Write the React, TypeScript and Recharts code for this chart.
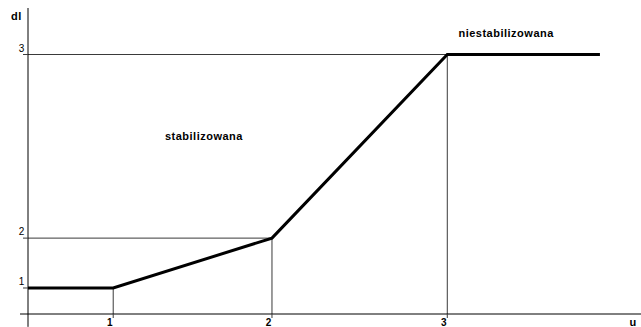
import { LineChart, Line, XAxis, YAxis, ReferenceLine, ReferenceDot } from 'recharts'

// break points of the dl(u) curve
const uPoints = [0, 1.39, 3.98, 6.84, 9.33]
const dlPoints = [0.85, 0.85, 2.48, 8.48, 8.48]
const pointNames = ['', '1', '2', '3', '']

const uTicks = uPoints.slice(1, 4)
const dlTicks = dlPoints.slice(1, 4)
const tickNames = pointNames.slice(1, 4)

const data = uPoints.map((u, i) => ({ u, dl: dlPoints[i] }))

const FONT = '"Liberation Sans", Arial, sans-serif'
const GUIDE = '#3a3a3a'

const labelStyle = { fontFamily: FONT, fontSize: 11, fontWeight: 700, fill: '#000', letterSpacing: 0.5 }

function nameFor(ticks: number[], v: number) {
    const i = ticks.indexOf(v)
    return i >= 0 ? tickNames[i] : ''
}

function XTick(props: any) {
    const { x, y, payload } = props
    return (
        <text x={x - 3.5} y={y} dy={6} textAnchor="middle" fontFamily={FONT} fontSize={10} fontWeight={700} fill="#000">
            {nameFor(uTicks, payload.value)}
        </text>
    )
}

function YTick(props: any) {
    const { x, y, payload } = props
    return (
        <text x={x + 0.5} y={y} dy={-3} textAnchor="middle" fontFamily={FONT} fontSize={10} fill="#000">
            {nameFor(dlTicks, payload.value)}
        </text>
    )
}

export default function App() {
    return (
        <div style={{ position: 'absolute', left: 0, top: 0, background: '#fff' }}>
            <LineChart width={641} height={327} data={data} margin={{ top: 8, right: 0, bottom: 0, left: 0 }}>
                <XAxis
                    type="number"
                    dataKey="u"
                    domain={[0, 10]}
                    ticks={uTicks}
                    interval={0}
                    height={13}
                    tickSize={4}
                    axisLine={{ stroke: '#000' }}
                    tickLine={{ stroke: GUIDE }}
                    tick={XTick}
                />
                <YAxis
                    type="number"
                    domain={[0, 10]}
                    ticks={dlTicks}
                    interval={0}
                    width={28}
                    tickSize={5}
                    axisLine={{ stroke: '#000' }}
                    tickLine={{ stroke: GUIDE }}
                    tick={YTick}
                />

                {/* axes run a little past the origin */}
                <ReferenceLine segment={[{ x: -0.13, y: 0 }, { x: 0, y: 0 }]} stroke="#000" ifOverflow="visible" />
                <ReferenceLine segment={[{ x: 0, y: 0 }, { x: 0, y: -0.42 }]} stroke="#000" ifOverflow="visible" />

                {/* guide lines to the break points */}
                {uTicks.map((u, i) => (
                    <ReferenceLine key={'v' + i} segment={[{ x: u, y: dlTicks[i] }, { x: u, y: 0 }]} stroke={GUIDE} ifOverflow="visible" />
                ))}
                {uTicks.map((u, i) => (
                    <ReferenceLine key={'h' + i} segment={[{ x: 0, y: dlTicks[i] }, { x: u, y: dlTicks[i] }]} stroke={GUIDE} ifOverflow="visible" />
                ))}

                <Line
                    type="linear"
                    dataKey="dl"
                    stroke="#000"
                    strokeWidth={3}
                    dot={false}
                    activeDot={false}
                    isAnimationActive={false}
                />

                <ReferenceDot x={-0.19} y={9.72} r={0} ifOverflow="visible" label={{ value: 'dl', position: 'center', ...labelStyle }} />
                <ReferenceDot x={9.87} y={-0.26} r={0} ifOverflow="visible" label={{ value: 'u', position: 'center', ...labelStyle }} />
                <ReferenceDot x={2.87} y={5.83} r={0} ifOverflow="visible" label={{ value: 'stabilizowana', position: 'center', ...labelStyle }} />
                <ReferenceDot x={7.8} y={9.17} r={0} ifOverflow="visible" label={{ value: 'niestabilizowana', position: 'center', ...labelStyle }} />
            </LineChart>
        </div>
    )
}
